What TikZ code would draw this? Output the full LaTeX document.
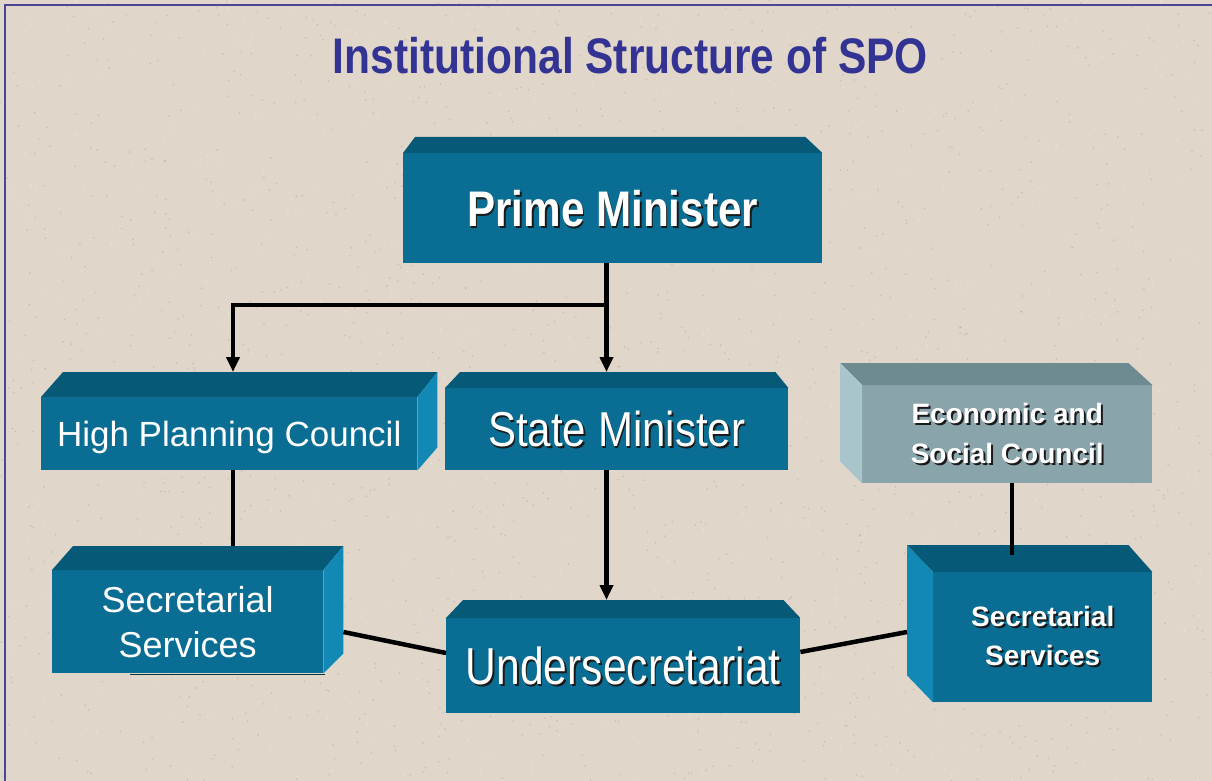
\documentclass[tikz,border=0pt]{standalone}
\usepackage{fontspec}
\usepackage{graphicx}
\setmainfont{Liberation Sans}
\usetikzlibrary{arrows.meta,calc}
\definecolor{bgc}{HTML}{E0D7CA}
\definecolor{speckd}{HTML}{8E8474}
\definecolor{speckl}{HTML}{F2ECE2}
\definecolor{bordc}{HTML}{4A4596}
\definecolor{titlec}{HTML}{333393}
\definecolor{boxfront}{HTML}{0A6E94}
\definecolor{boxtop}{HTML}{065A78}
\definecolor{boxside}{HTML}{1289B5}
\definecolor{escfront}{HTML}{8AA4AB}
\definecolor{esctop}{HTML}{6F8B92}
\definecolor{escside}{HTML}{A9C5CC}
\definecolor{shadowc}{HTML}{1A1A1A}
\newcommand\shtxt[1]{\leavevmode\rlap{\kern2pt\raisebox{-2pt}{\color{shadowc}#1}}#1}
\begin{document}
\begin{tikzpicture}[x=1pt,y=-1pt,
  front/.style={fill=boxfront, inner sep=0pt, text=white, anchor=north west, align=center},
  grayfront/.style={front, fill=escfront},
  topface/.style={fill=boxtop},
  sideface/.style={fill=boxside},
  conn/.style={draw=black, line width=4.5pt},
  arr/.style={conn, -{Triangle[length=15pt,width=13pt]}}]
\useasboundingbox (0,0) rectangle (1212,781);
\fill[bgc] (0,0) rectangle (1212,781);
\pgfmathsetseed{7}
\foreach \i in {1,...,1500}{\fill[speckd, opacity=0.3] ({rnd*1212},{rnd*781}) circle (0.9pt);}
\foreach \i in {1,...,600}{\fill[speckl, opacity=0.6] ({rnd*1212},{rnd*781}) circle (0.9pt);}
\draw[bordc, line width=1.8pt] (5,781) -- (5,5) -- (1212,5);

% title
\node[anchor=base, text=titlec, font=\fontsize{50}{56}\selectfont\bfseries, inner sep=0pt] (title) at (630.5,74) {\resizebox{595pt}{\height}{Institutional Structure of SPO}};

% Prime Minister
\node[front, minimum width=419pt, minimum height=110pt, text depth=0pt, font=\fontsize{50}{60}\selectfont\bfseries] (pm) at (403,153) {\resizebox{291pt}{\height}{\shtxt{Prime Minister}}};
\fill[topface] (pm.north west) -- (pm.north east) -- +(-17,-16) -- ($(pm.north west)+(12,-16)$) -- cycle;

% High Planning Council
\node[front, minimum width=376pt, minimum height=73pt, text depth=0pt, font=\fontsize{35}{42}\selectfont] (hpc) at (41,397) {High Planning Council};
\fill[topface] (hpc.north west) -- (hpc.north east) -- +(20,-25) -- ($(hpc.north west)+(22,-25)$) -- cycle;
\fill[sideface] (hpc.north east) -- +(20,-25) -- ($(hpc.south east)+(20,-23)$) -- (hpc.south east) -- cycle;

% State Minister
\node[front, minimum width=343pt, minimum height=82pt, text depth=0pt, font=\fontsize{49}{58}\selectfont] (sm) at (445,388) {\resizebox{257pt}{\height}{\shtxt{State Minister}}};
\fill[topface] (sm.north west) -- (sm.north east) -- +(-13,-16) -- ($(sm.north west)+(15,-16)$) -- cycle;

% Undersecretariat
\node[front, minimum width=354pt, minimum height=95pt, text depth=0pt, font=\fontsize{52}{62}\selectfont] (us) at (446,618) {\resizebox{315pt}{\height}{\shtxt{Undersecretariat}}};
\fill[topface] (us.north west) -- (us.north east) -- +(-17,-18) -- ($(us.north west)+(17,-18)$) -- cycle;

% Secretarial Services (left)
\node[front, minimum width=271pt, minimum height=103pt, font=\fontsize{36}{45}\selectfont] (secl) at (52,570) {Secretarial\\Services};
\fill[topface] (secl.north west) -- (secl.north east) -- +(20,-24) -- ($(secl.north west)+(21,-24)$) -- cycle;
\fill[sideface] (secl.north east) -- +(20,-24) -- ($(secl.south east)+(20,-20)$) -- (secl.south east) -- cycle;
\draw[boxtop!60!black, line width=1.5pt] ($(secl.south west)+(78,1)$) -- ($(secl.south east)+(2,1)$);

% Economic and Social Council
\node[grayfront, minimum width=290pt, minimum height=98pt, font=\fontsize{28}{40}\selectfont\bfseries] (esc) at (862,385) {\shtxt{Economic and}\\\shtxt{Social Council}};
\fill[esctop] (esc.north west) -- (esc.north east) -- +(-24,-22) -- ($(esc.north west)+(-22,-22)$) -- cycle;
\fill[escside] (esc.north west) -- +(-22,-22) -- ($(esc.south west)+(-22,-22)$) -- (esc.south west) -- cycle;

% Secretarial Services (right)
\node[front, minimum width=219pt, minimum height=130pt, font=\fontsize{28}{39}\selectfont\bfseries] (secr) at (933,572) {\shtxt{Secretarial}\\\shtxt{Services}};
\fill[topface] (secr.north west) -- (secr.north east) -- +(-24,-27) -- ($(secr.north west)+(-26,-27)$) -- cycle;
\fill[sideface] (secr.north west) -- +(-26,-27) -- ($(secr.south west)+(-26,-27)$) -- (secr.south west) -- cycle;

% connectors
\coordinate (trunk) at (606.5,0);
\coordinate (branch) at (606.5,305);
\coordinate (hpcx) at (233,0);
\coordinate (escx) at (1012,0);
\draw[arr] (pm.south -| trunk) -- ($(sm.north -| trunk)+(0,-16)$);
\draw[arr] (branch) -| ($(hpc.north -| hpcx)+(0,-25)$);
\draw[arr] (sm.south -| trunk) -- ($(us.north -| trunk)+(0,-18)$);
\draw[conn] (hpc.south -| hpcx) -- ($(secl.north -| hpcx)+(0,-24)$);
\draw[conn] ($(secl.north east)+(20,62)$) -- ($(us.north west)+(0,35)$);
\draw[conn] ($(us.north east)+(0,34)$) -- ($(secr.north west)+(-26,60)$);
\draw[conn] (esc.south -| escx) -- ($(secr.north -| escx)+(0,-17)$);
\end{tikzpicture}
\end{document}
